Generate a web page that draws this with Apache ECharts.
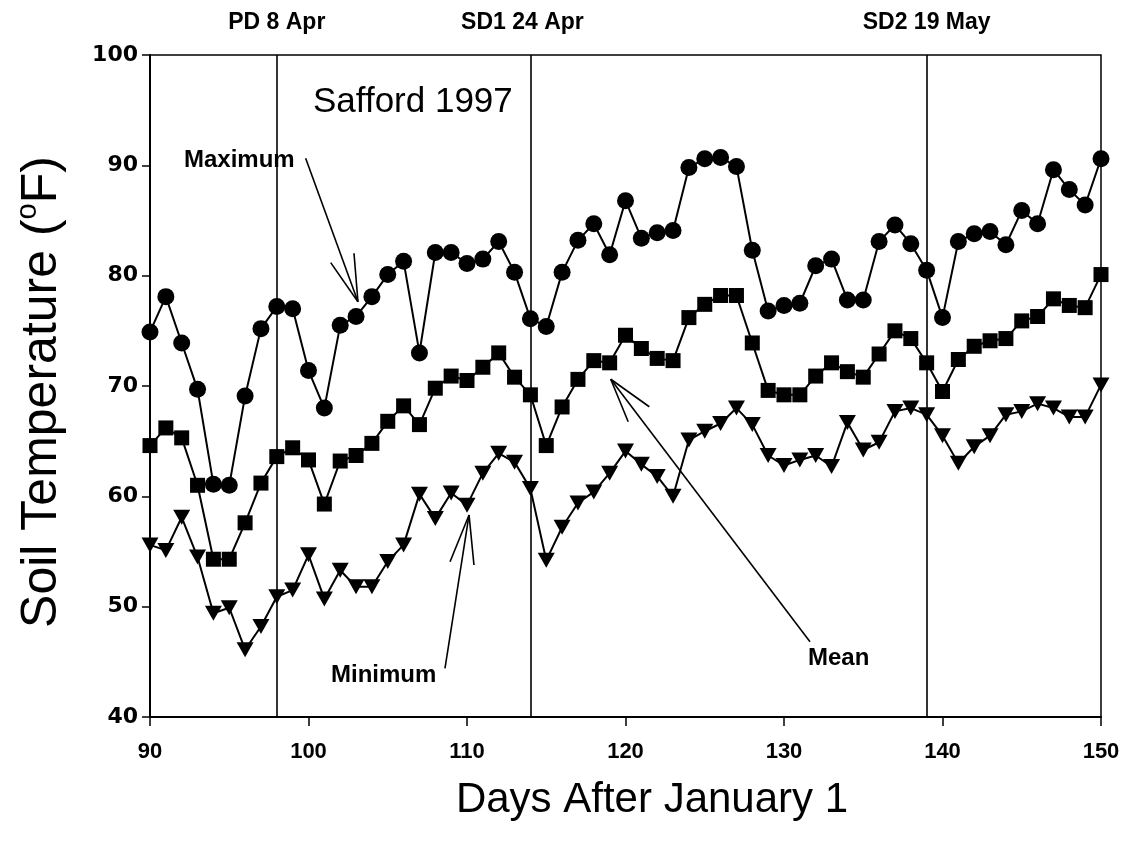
<!DOCTYPE html>
<html>
<head>
<meta charset="utf-8">
<script src="https://cdn.jsdelivr.net/npm/echarts@6/dist/echarts.min.js"></script>
<style>html,body{margin:0;padding:0;background:#fff}#c{width:1132px;height:846px}</style>
</head>
<body>
<div id="c"></div>
<script>
const days = [90,91,92,93,94,95,96,97,98,99,100,101,102,103,104,105,106,107,108,109,110,111,112,113,114,115,116,117,118,119,120,121,122,123,124,125,126,127,128,129,130,131,132,133,134,135,136,137,138,139,140,141,142,143,144,145,146,147,148,149,150];
const maxTemp = [74.9,78.1,73.9,69.7,61.1,61.0,69.1,75.2,77.2,77.0,71.4,68.0,75.5,76.3,78.1,80.1,81.3,73.0,82.1,82.1,81.1,81.5,83.1,80.3,76.1,75.4,80.3,83.2,84.7,81.9,86.8,83.4,83.9,84.1,89.8,90.6,90.7,89.9,82.3,76.8,77.3,77.5,80.9,81.5,77.8,77.8,83.1,84.6,82.9,80.5,76.2,83.1,83.8,84.0,82.8,85.9,84.7,89.6,87.8,86.4,90.6];
const meanTemp = [64.6,66.2,65.3,61.0,54.3,54.3,57.6,61.2,63.6,64.4,63.3,59.3,63.2,63.7,64.8,66.8,68.2,66.5,69.8,70.9,70.5,71.7,73.0,70.8,69.2,64.6,68.1,70.6,72.3,72.1,74.6,73.4,72.5,72.3,76.2,77.4,78.2,78.2,73.9,69.6,69.2,69.2,70.9,72.1,71.3,70.8,72.9,75.0,74.3,72.1,69.5,72.4,73.6,74.1,74.3,75.9,76.3,77.9,77.3,77.1,80.1];
const minTemp = [55.6,55.1,58.1,54.5,49.4,49.9,46.1,48.2,50.9,51.5,54.7,50.7,53.3,51.8,51.8,54.1,55.6,60.2,58.0,60.3,59.2,62.1,63.9,63.1,60.7,54.2,57.2,59.4,60.4,62.1,64.1,62.9,61.8,60.0,65.1,65.9,66.6,68.0,66.5,63.7,62.8,63.3,63.7,62.7,66.7,64.2,64.9,67.7,68.0,67.4,65.5,63.0,64.5,65.5,67.4,67.7,68.4,68.0,67.2,67.2,70.1];
const eventDays = [98,114,139];
const eventLabels = ['PD 8 Apr','SD1 24 Apr','SD2 19 May'];
const xTicks = [90,100,110,120,130,140,150];
const yTicks = [40,50,60,70,80,90,100];

// annotation arrows in data coordinates: [tail, tip, barb1, barb2]
const arrows = [
  [[99.82,90.64],[103.12,77.64],[101.40,81.18],[102.87,82.03]],
  [[108.61,44.41],[110.13,58.31],[108.93,54.07],[110.44,53.78]],
  [[131.64,46.82],[119.07,70.61],[120.17,66.76],[121.50,68.12]]
];

const pair = (a) => days.map((d,i)=>[d,a[i]]);
const FONT = "'Liberation Sans', Arial, sans-serif";
const NARROW = "'Liberation Sans Narrow', 'Liberation Sans', Arial, sans-serif";

const chart = echarts.init(document.getElementById('c'), null, {renderer:'canvas'});

const arrowLines = [];
arrows.forEach(a => {
  arrowLines.push([{coord:a[0]},{coord:a[1]}]);
  arrowLines.push([{coord:a[2]},{coord:a[1]}]);
  arrowLines.push([{coord:a[3]},{coord:a[1]}]);
});

const lineStyle = {color:'#000', width:2};
const labelOffsets = [[0,0],[-8,0],[0,0]];
chart.setOption({
  animation:false,
  backgroundColor:'#fff',
  grid:{left:150,right:31,top:55,bottom:129,show:true,borderColor:'#000',borderWidth:1.5,backgroundColor:'transparent'},
  xAxis:{type:'value',min:90,max:150,interval:10,
    axisLine:{lineStyle:{color:'#000',width:2}},
    axisTick:{show:true,length:9,lineStyle:{color:'#000',width:1.5}},
    splitLine:{show:false},
    axisLabel:{color:'#000',fontFamily:NARROW,fontWeight:'bold',fontSize:22,margin:24,
      formatter:(v)=> xTicks.includes(v)? String(v):''}
  },
  yAxis:{type:'value',min:40,max:100,interval:10,
    axisLine:{lineStyle:{color:'#000',width:2}},
    axisTick:{show:true,length:8,lineStyle:{color:'#000',width:1.5}},
    splitLine:{show:false},
    axisLabel:{color:'#000',fontFamily:"'DejaVu Sans', sans-serif",fontWeight:'bold',fontSize:22,margin:12,
      formatter:(v)=> yTicks.includes(v)? String(v):''}
  },
  series:[
    {name:'events',type:'line',data:[],z:1,
     markLine:{silent:true,symbol:['none','none'],animation:false,
       lineStyle:{color:'#000',width:1.6,type:'solid'},
       label:{show:true,position:'end',distance:21,color:'#000',fontFamily:NARROW,fontWeight:'bold',fontSize:23,formatter:(p)=>p.name},
       data: eventDays.map((d,i)=>({xAxis:d,name:eventLabels[i],label:{offset:labelOffsets[i]}}))
     }},
    {name:'arrows',type:'line',data:[],z:1,
     markLine:{silent:true,symbol:['none','none'],animation:false,
       lineStyle:{color:'#000',width:1.6,type:'solid'},label:{show:false},
       data: arrowLines}},
    {name:'Maximum',type:'line',data:pair(maxTemp),symbol:'circle',symbolSize:17,
     lineStyle:lineStyle,itemStyle:{color:'#000'},z:5},
    {name:'Mean',type:'line',data:pair(meanTemp),symbol:'rect',symbolSize:15,
     lineStyle:lineStyle,itemStyle:{color:'#000'},z:5},
    {name:'Minimum',type:'line',data:pair(minTemp),symbol:'triangle',symbolRotate:180,symbolSize:[17,15],
     lineStyle:lineStyle,itemStyle:{color:'#000'},z:5}
  ],
  graphic:[
    {type:'text',x:42,y:392,rotation:Math.PI/2,style:{
      text:'{a|Soil Temperature (}{s|o}{a|F)}',
      align:'center',verticalAlign:'middle',
      rich:{a:{fontFamily:FONT,fontSize:50,fill:'#000',lineHeight:58,verticalAlign:'middle'},
            s:{fontFamily:FONT,fontSize:29,fill:'#000',lineHeight:58,verticalAlign:'top',padding:[0,0,22,0]}}}},
    {type:'text',x:652,y:800,style:{text:'Days After January 1',fontFamily:FONT,fontSize:42,fill:'#000',align:'center',verticalAlign:'middle'}},
    {type:'text',x:313,y:102,style:{text:'Safford 1997',fontFamily:FONT,fontSize:35,fill:'#000',align:'left',verticalAlign:'middle'}},
    {type:'text',x:184,y:160,style:{text:'Maximum',fontFamily:FONT,fontSize:24,fontWeight:'bold',fill:'#000',align:'left',verticalAlign:'middle'}},
    {type:'text',x:331,y:675,style:{text:'Minimum',fontFamily:FONT,fontSize:24,fontWeight:'bold',fill:'#000',align:'left',verticalAlign:'middle'}},
    {type:'text',x:808,y:658,style:{text:'Mean',fontFamily:FONT,fontSize:24,fontWeight:'bold',fill:'#000',align:'left',verticalAlign:'middle'}}
  ]
});
</script>
</body>
</html>
